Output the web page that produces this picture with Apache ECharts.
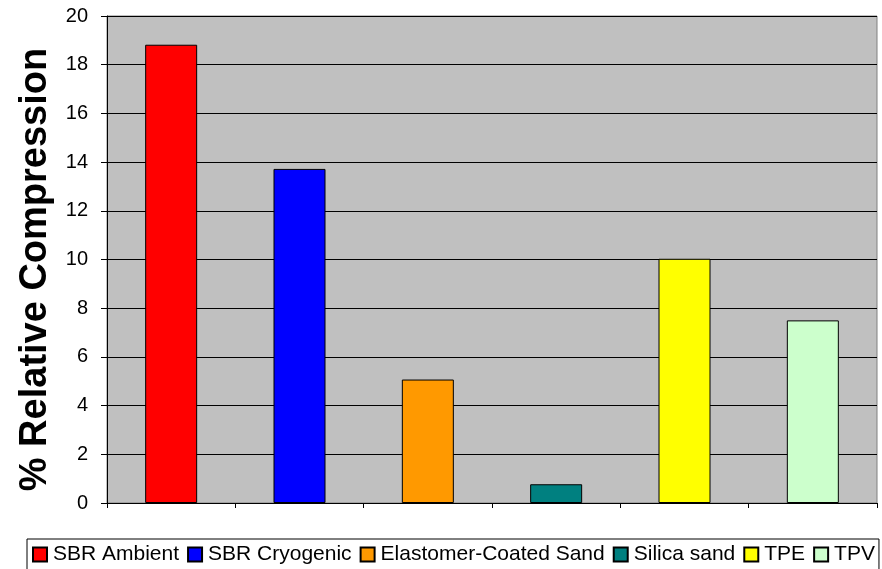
<!DOCTYPE html>
<html>
<head>
<meta charset="utf-8">
<script src="https://cdn.jsdelivr.net/npm/echarts@6/dist/echarts.min.js"></script>
<style>
  html, body { margin: 0; padding: 0; background: #fff; }
  #chart { width: 882px; height: 569px; }
</style>
</head>
<body>
<div id="chart"></div>
<script>
// Infill materials and their measured relative compression (%)
const materials = ['SBR Ambient', 'SBR Cryogenic', 'Elastomer-Coated Sand', 'Silica sand', 'TPE', 'TPV'];
const compression = [18.82, 13.72, 5.07, 0.77, 10.03, 7.5];
const barColors = ['#ff0000', '#0000ff', '#ff9900', '#008080', '#ffff00', '#ccffcc'];
const yTicks = [0, 2, 4, 6, 8, 10, 12, 14, 16, 18, 20];

const FONT = 'Liberation Sans, Arial, sans-serif';

// One series per material, each placed in its own slot on the category axis
const series = materials.map((name, i) => ({
  name: name,
  type: 'bar',
  stack: 'all',
  barWidth: 52,
  data: materials.map((_, j) => (j === i ? compression[i] : '-')),
  itemStyle: { color: barColors[i], borderColor: '#000', borderWidth: 1 }
}));

const chart = echarts.init(document.getElementById('chart'), null, { renderer: 'canvas' });
chart.setOption({
  animation: false,
  backgroundColor: '#fff',
  textStyle: { fontFamily: FONT },
  grid: {
    left: 107, right: 5, top: 16, bottom: 66,
    show: true, backgroundColor: '#c0c0c0', borderColor: '#808080', borderWidth: 1
  },
  legend: {
    left: 27, top: 539,
    data: materials,
    itemWidth: 14, itemHeight: 14, itemGap: 8,
    icon: 'rect',
    borderColor: '#000', borderWidth: 1,
    padding: [5, 4, 12, 5],
    textStyle: { fontFamily: FONT, fontSize: 21, color: '#000', padding: [0, 0, 0, 1] }
  },
  xAxis: {
    type: 'category',
    data: materials,
    axisLine: { show: true, lineStyle: { color: '#000', width: 1 } },
    axisTick: { show: true, length: 5, interval: 0, alignWithLabel: false, lineStyle: { color: '#000' } },
    axisLabel: { show: false, interval: 0 },
    splitLine: { show: false }
  },
  yAxis: {
    type: 'value',
    min: 0, max: 20, interval: 2,
    name: '% Relative Compression',
    nameLocation: 'middle',
    nameGap: 48,
    nameRotate: 90,
    nameTextStyle: {
      fontFamily: FONT, fontSize: 38, fontWeight: 'bold', color: '#000',
      padding: [0, 20, 0, 0]
    },
    axisLine: { show: true, lineStyle: { color: '#000', width: 1 } },
    axisTick: { show: true, length: 6, lineStyle: { color: '#000' } },
    axisLabel: {
      fontFamily: FONT, fontSize: 20, color: '#000', margin: 19,
      formatter: v => (yTicks.includes(v) ? String(v) : '')
    },
    splitLine: { show: true, lineStyle: { color: '#000', width: 1 } }
  },
  series: series
});
</script>
</body>
</html>
